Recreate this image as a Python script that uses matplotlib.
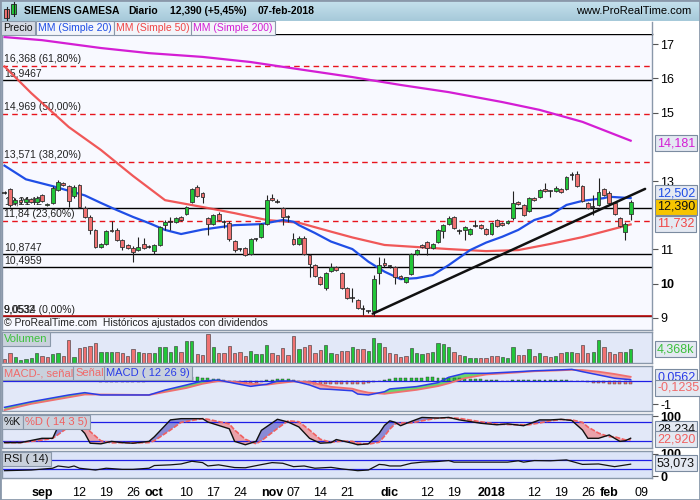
import numpy as np
import pandas as pd
import matplotlib
matplotlib.use("Agg")
import matplotlib.pyplot as plt
from matplotlib.patches import Rectangle
from matplotlib.lines import Line2D
from matplotlib.colors import LinearSegmentedColormap

plt.rcParams['font.family'] = ['Liberation Sans', 'DejaVu Sans']

# trading days on the Madrid exchange (holidays removed)
holidays = ["2017-12-25", "2017-12-26", "2018-01-01"]
days = pd.bdate_range("2017-08-23", "2018-02-09", freq="C", holidays=holidays)

# daily candles, 23-aug-2017 .. 07-feb-2018
opens = [12.66, 12.76, 12.35, 12.45, 12.38, 12.47, 12.40, 12.59, 12.30, 12.35,
         12.74, 12.93, 12.85, 12.55, 12.88, 12.22, 11.96, 11.57, 11.08, 11.17,
         11.58, 11.58, 11.27, 11.13, 11.05, 10.98, 11.15, 11.08, 10.95, 11.13,
         11.71, 11.81, 11.81, 11.95, 12.05, 12.40, 12.83, 12.64, 11.91, 11.74,
         12.05, 11.80, 11.78, 11.25, 11.00, 11.03, 10.87, 11.29, 11.37, 11.74,
         12.49, 12.40, 12.20, 11.96, 11.29, 11.15, 11.34, 10.85, 10.54, 10.20,
         9.86, 10.38, 10.49, 10.30, 9.86, 9.57, 9.52, 9.25, 9.20, 9.20,
         10.30, 10.59, 10.51, 10.49, 10.22, 10.05, 10.28, 10.88, 11.12, 11.22,
         11.05, 11.21, 11.55, 11.74, 11.94, 11.55, 11.57, 11.45, 11.68, 11.71,
         11.61, 11.45, 11.86, 11.78, 11.76, 11.91, 12.40, 12.30, 12.12, 12.51,
         12.54, 12.76, 12.71, 12.72, 12.78, 12.76, 13.17, 13.22, 12.85, 12.35,
         12.25, 12.30, 12.76, 12.64, 12.35, 11.91, 11.52, 12.03]
highs = [12.72, 12.80, 12.50, 12.52, 12.52, 12.50, 12.55, 12.63, 12.37, 12.85,
         13.02, 12.96, 12.88, 12.88, 12.92, 12.26, 12.00, 11.60, 11.20, 11.58,
         11.82, 11.62, 11.30, 11.16, 11.10, 11.35, 11.32, 11.12, 11.16, 11.68,
         11.86, 11.95, 11.95, 11.99, 12.28, 12.80, 12.88, 12.68, 11.96, 12.04,
         12.10, 11.86, 11.82, 11.28, 11.04, 11.06, 11.32, 11.33, 11.78, 12.59,
         12.61, 12.46, 12.24, 12.00, 11.49, 11.38, 11.38, 10.88, 10.57, 10.23,
         10.34, 10.60, 10.52, 10.33, 9.89, 9.86, 9.55, 9.37, 9.24, 10.25,
         10.78, 10.74, 10.55, 10.52, 10.25, 10.20, 10.90, 11.00, 11.15, 11.25,
         11.18, 11.60, 11.73, 11.99, 11.97, 11.60, 11.68, 11.63, 11.86, 11.74,
         11.64, 11.79, 11.89, 11.81, 11.86, 12.72, 12.43, 12.33, 12.52, 12.54,
         12.77, 12.93, 12.75, 12.84, 12.81, 13.14, 13.27, 13.30, 12.88, 12.38,
         12.58, 13.08, 12.79, 12.72, 12.38, 11.94, 11.80, 12.45]
lows = [12.62, 12.25, 12.30, 12.34, 12.35, 12.36, 12.38, 12.38, 12.27, 12.32,
        12.70, 12.86, 12.25, 12.50, 12.22, 11.92, 11.45, 11.05, 11.05, 11.14,
        11.50, 11.25, 10.98, 11.00, 10.64, 10.95, 11.02, 11.03, 10.88, 11.10,
        11.56, 11.56, 11.78, 11.83, 12.00, 12.36, 12.52, 12.35, 11.42, 11.70,
        11.82, 11.62, 11.26, 10.93, 10.95, 10.82, 10.84, 11.25, 11.33, 11.70,
        12.42, 12.36, 11.72, 11.80, 11.12, 11.12, 10.85, 10.20, 10.18, 9.95,
        9.82, 10.35, 10.36, 9.83, 9.54, 9.47, 9.25, 9.08, 9.13, 9.05,
        10.00, 10.50, 10.46, 10.00, 10.12, 10.02, 10.25, 10.84, 11.03, 10.85,
        11.02, 11.18, 11.32, 11.72, 11.60, 11.45, 11.27, 11.42, 11.65, 11.61,
        11.41, 11.42, 11.65, 11.68, 11.73, 11.86, 12.30, 11.97, 12.09, 12.41,
        12.51, 12.68, 12.54, 12.69, 12.66, 12.73, 13.03, 12.82, 12.39, 12.17,
        12.00, 12.27, 12.56, 12.32, 12.00, 11.65, 11.27, 11.86]
closes = [12.66, 12.30, 12.45, 12.38, 12.47, 12.40, 12.50, 12.42, 12.34, 12.80,
          12.98, 12.89, 12.42, 12.82, 12.25, 11.96, 11.57, 11.08, 11.17, 11.54,
          11.54, 11.27, 11.08, 11.05, 10.93, 11.08, 11.05, 11.08, 11.13, 11.66,
          11.81, 11.81, 11.91, 11.86, 12.25, 12.76, 12.56, 12.54, 11.74, 12.00,
          11.86, 11.80, 11.29, 10.98, 11.00, 10.84, 11.29, 11.29, 11.74, 12.44,
          12.44, 12.40, 11.96, 11.96, 11.15, 11.34, 10.88, 10.56, 10.22, 9.98,
          10.30, 10.49, 10.40, 9.86, 9.57, 9.57, 9.28, 9.25, 9.20, 10.12,
          10.54, 10.53, 10.51, 10.20, 10.15, 10.18, 10.88, 10.98, 11.06, 11.03,
          11.15, 11.57, 11.71, 11.91, 11.64, 11.55, 11.66, 11.61, 11.68, 11.64,
          11.44, 11.76, 11.68, 11.71, 11.83, 12.35, 12.33, 12.00, 12.49, 12.44,
          12.74, 12.71, 12.71, 12.81, 12.69, 13.11, 13.17, 12.85, 12.42, 12.20,
          12.25, 12.69, 12.59, 12.35, 12.03, 11.68, 11.75, 12.39]

# volume (thousands) and bar colour (g = up, r = down)
volumes = [1250, 3120, 1870, 1040, 1350, 1560, 3120, 2290, 1870, 2810,
           3120, 2290, 7280, 1870, 4680, 5200, 5410, 6240, 3640, 3640,
           3640, 3640, 3120, 2290, 4370, 3640, 3120, 3120, 3120, 5200,
           5200, 3640, 5410, 3640, 7070, 7070, 2810, 2600, 9150, 5200,
           3120, 3120, 5410, 3120, 3640, 2290, 3950, 2910, 2810, 5720,
           3330, 2600, 4680, 2600, 8530, 4370, 5200, 5720, 3120, 4160,
           5720, 3330, 2910, 3850, 3850, 4990, 4370, 4370, 3850, 7800,
           6240, 5200, 3120, 2810, 2080, 2290, 4680, 3120, 2910, 3120,
           3640, 6240, 6030, 4990, 3430, 2600, 2290, 1560, 1560, 1560,
           1560, 2290, 2290, 1870, 1660, 4990, 2600, 2600, 4370, 2290,
           3330, 2290, 2080, 2290, 3120, 3640, 3640, 3330, 5720, 3330,
           3640, 7280, 5200, 3430, 2910, 3640, 3640, 4368]
vol_dir = ("rrgggggrrg" "grrgrrrrgg" "grrrrgrrgg" "gggrggrrrg" "rrrrrrgggg"
           "rrrrrgrrrr" "ggrrr" "grrgggrrrr" "rgggrggggr" "rgggrrrrgg"
           "grrgrgrrgr" "ggrrrggrrr" "rgg")

# moving averages
ma20_idx = [0, 4, 9, 15, 18, 21, 24, 27, 30, 33, 37, 43, 48, 52, 54, 55, 58, 61,
            65, 68, 71, 74, 77, 80, 83, 87, 90, 93, 96, 99, 102, 105, 108, 112, 113, 117]
ma20_val = [13.45, 13.05, 12.85, 12.58, 12.36, 12.15, 11.95, 11.77, 11.57, 11.45,
            11.58, 11.71, 11.74, 11.86, 11.81, 11.71, 11.48, 11.23, 11.01, 10.64,
            10.35, 10.13, 10.16, 10.25, 10.54, 10.98, 11.20, 11.37, 11.57, 11.86,
            12.00, 12.30, 12.42, 12.50, 12.54, 12.50]
ma50_idx = [0, 5, 12, 18, 24, 30, 37, 43, 49, 55, 61, 65, 71, 77, 83, 90, 96, 102, 108, 117]
ma50_val = [16.35, 15.57, 14.58, 13.91, 13.15, 12.44, 12.24, 12.06, 11.86, 11.78,
            11.52, 11.35, 11.13, 11.07, 11.01, 10.95, 10.98, 11.16, 11.36, 11.73]
ma200_idx = [0, 7, 18, 27, 37, 46, 55, 65, 74, 83, 93, 100, 108, 117]
ma200_val = [17.21, 17.12, 16.89, 16.74, 16.63, 16.48, 16.27, 16.04, 15.81, 15.60,
             15.31, 15.08, 14.73, 14.18]

# drawn lines
trend_x = [68.8, 119.7]
trend_y = [9.12, 12.77]
fib_levels = [16.368, 14.969, 13.571, 11.84]
fib_labels = ["16,368 (61,80%)", "14,969 (50,00%)", "13,571 (38,20%)", "11,84 (23,60%)"]
hline_levels = [15.9467, 12.2142, 10.8747, 10.4959, 9.0532]
hline_labels = ["15,9467", "12,2142", "10,8747", "10,4959", "9,0532"]
zero_level = 9.0534
zero_label = "9,0534 (0,00%)"

# MACD (12 26 9)
macd_idx = [0, 5, 12, 15, 18, 27, 30, 34, 37, 40, 43, 46, 49, 51, 54, 57, 59, 61,
            65, 66, 68, 71, 72, 77, 81, 83, 86, 90, 96, 99, 103, 106, 108, 111, 114, 117]
macd_val = [-1.13, -0.89, -0.60, -0.50, -0.60, -0.60, -0.39, -0.17, 0.0, 0.04,
            -0.10, -0.23, -0.14, 0.0, 0.0, -0.17, -0.34, -0.36, -0.42, -0.56,
            -0.60, -0.46, -0.34, -0.24, -0.07, 0.16, 0.33, 0.33, 0.40, 0.44,
            0.47, 0.50, 0.40, 0.26, 0.12, 0.056]
signal_val = [-1.25, -0.98, -0.70, -0.58, -0.58, -0.60, -0.47, -0.30, -0.12, 0.0,
              -0.04, -0.12, -0.16, -0.10, -0.02, -0.05, -0.15, -0.25, -0.33, -0.40,
              -0.50, -0.55, -0.52, -0.38, -0.22, -0.10, 0.12, 0.28, 0.37, 0.42,
              0.45, 0.48, 0.47, 0.40, 0.30, 0.18]
macd_hist = [0.10, 0.10, 0.10, 0.10, 0.09, 0.09, 0.09, 0.09, 0.10, 0.10,
             0.10, 0.10, 0.10, 0.09, 0.06, 0.04, 0.02, -0.02, -0.03, -0.03,
             -0.04, -0.04, -0.06, -0.06, -0.06, -0.05, -0.04, -0.02, 0.0, 0.03,
             0.06, 0.08, 0.10, 0.12, 0.14, 0.16, 0.16, 0.15, 0.12, 0.10,
             0.07, 0.04, -0.03, -0.07, -0.09, -0.10, -0.09, -0.07, -0.04, 0.03,
             0.06, 0.07, 0.08, 0.07, 0.05, 0.02, -0.04, -0.08, -0.11, -0.13,
             -0.13, -0.12, -0.12, -0.13, -0.14, -0.13, -0.12, -0.11, -0.10, -0.06,
             0.0, 0.04, 0.08, 0.11, 0.13, 0.14, 0.15, 0.15, 0.15, 0.16,
             0.16, 0.15, 0.15, 0.14, 0.13, 0.12, 0.10, 0.09, 0.08, 0.07,
             0.06, 0.05, 0.04, 0.02, 0.02, 0.03, 0.03, 0.03, 0.03, 0.03,
             0.03, 0.03, 0.03, 0.03, 0.03, 0.03, 0.02, 0.01, -0.01, -0.04,
             -0.07, -0.09, -0.10, -0.11, -0.12, -0.14, -0.13, -0.12]

# Stochastic %K / %D (14 3 5)
stoch_idx = [0, 3, 7, 9, 10, 12, 13, 15, 16, 18, 20, 22, 24, 27, 28, 31, 33, 37, 38, 42,
             43, 45, 47, 48, 51, 53, 55, 57, 59, 61, 62, 63, 65, 66, 68, 70, 71, 72, 73, 74,
             76, 78, 81, 83, 85, 89, 92, 94, 97, 98, 100, 102, 104, 106, 108, 109, 111, 113,
             114, 115, 116, 117]
stoch_k = [14, 14, 28, 28, 66, 88, 81, 44, 12, 10, 18, 14, 12, 18, 33, 88, 92, 92, 81, 59,
           18, 7, 18, 54, 90, 81, 65, 28, 12, 14, 24, 20, 12, 7, 10, 44, 70, 85, 80, 69,
           83, 96, 94, 96, 88, 77, 72, 75, 69, 75, 88, 88, 90, 86, 55, 28, 28, 39,
           28, 18, 20, 28.2]
stoch_d = [14, 14, 22, 28, 40, 65, 78, 75, 50, 20, 13, 14, 13, 14, 20, 55, 80, 92, 90, 75,
           55, 25, 10, 20, 60, 85, 82, 55, 25, 15, 17, 19, 18, 12, 9, 15, 35, 58, 75, 78,
           78, 85, 94, 95, 93, 82, 74, 73, 72, 72, 78, 85, 89, 88, 80, 65, 45, 33,
           33, 28, 23, 22.9]

# RSI (14)
rsi_idx = [0, 5, 9, 10, 12, 13, 14, 17, 19, 22, 24, 27, 28, 31, 33, 35, 37, 38, 40, 43,
           45, 48, 50, 52, 54, 56, 58, 61, 63, 65, 66, 68, 70, 71, 72, 74, 76, 78, 81, 83,
           84, 89, 94, 96, 97, 99, 102, 105, 108, 111, 114, 117]
rsi_val = [24, 27, 35, 45, 39, 45, 35, 27, 35, 30, 30, 35, 47, 50, 54, 66, 60, 45, 50, 38,
           37, 51, 60, 57, 42, 45, 35, 39, 32, 27, 24, 27, 52, 50, 45, 45, 57, 62, 65, 69,
           62, 62, 62, 68, 62, 69, 68, 72, 52, 54, 42, 53.07]

tick_days = ["2017-09-01", "2017-09-12", "2017-09-19", "2017-09-26", "2017-10-02",
             "2017-10-10", "2017-10-17", "2017-10-24", "2017-11-01", "2017-11-07",
             "2017-11-14", "2017-11-21", "2017-12-01", "2017-12-12", "2017-12-19",
             "2018-01-02", "2018-01-12", "2018-01-19", "2018-01-26", "2018-02-01",
             "2018-02-09"]
tick_labels = ["sep", "12", "19", "26", "oct", "10", "17", "24", "nov", "07", "14", "21",
               "dic", "12", "19", "2018", "12", "19", "26", "feb", "09"]

# ---------------------------------------------------------------
UP, DOWN, EDGE = '#22c638', '#f07272', '#333333'
BORDER = '#8a98aa'
W, H = 700, 500


def fx(x):
    return x / W


def fy(y):
    return 1 - y / H


def rect(top, bot, left=2, right=652):
    return [fx(left), fy(bot), (right - left) / W, (bot - top) / H]


def style(ax, bg):
    ax.set_facecolor(bg)
    for s in ax.spines.values():
        s.set_color(BORDER)
        s.set_linewidth(1)
    ax.set_xlim(-0.47, 120.99)
    ax.set_xticks([])
    ax.yaxis.tick_right()
    ax.tick_params(axis='y', length=4, color='#555555', labelsize=9, pad=2)


def value_box(ypx, txt, color, face='#e4e9f2'):
    fig.text(fx(657), fy(ypx), txt, color=color, fontsize=9, va='center', ha='left',
             bbox=dict(boxstyle='square,pad=0.15', fc=face, ec='#7b8ba0', lw=0.8))


def title_box(xpx, ypx, txt, color, face='#c9d1dc', size=8):
    fig.text(fx(xpx), fy(ypx), txt, color=color, fontsize=size, va='center', ha='left',
             bbox=dict(boxstyle='square,pad=0.2', fc=face, ec=BORDER, lw=0.8))


fig = plt.figure(figsize=(7, 5), dpi=100, facecolor='white')

# title bar
ax_t = fig.add_axes([0, fy(21.5), 1, 21.5 / H])
cmap = LinearSegmentedColormap.from_list('bar', ['#c8e3ef', '#a6c9d9'])
ax_t.imshow(np.linspace(0, 1, 40).reshape(-1, 1), aspect='auto', cmap=cmap, extent=[0, 1, 0, 1])
ax_t.axis('off')
for xp, txt in [(24, "SIEMENS GAMESA"), (128, "Diario"), (170, "12,390 (+5,45%)"),
                (258, "07-feb-2018")]:
    fig.text(fx(xp), fy(11), txt, fontsize=7.5, fontweight='bold', va='center')
fig.text(fx(691), fy(11), "www.ProRealTime.com", fontsize=8, va='center', ha='right')
# little candle icon
for (x0, y0, y1, w0, w1, c) in [(4, 9, 18, 7, 20, DOWN), (11, 4, 14, 2, 16, UP)]:
    fig.add_artist(Line2D([fx(x0 + 2.5)] * 2, [fy(w0), fy(w1)], color='#222', lw=0.8,
                          transform=fig.transFigure))
    fig.add_artist(Rectangle((fx(x0), fy(y1)), 5 / W, (y1 - y0) / H, fc=c, ec='#222',
                             lw=0.6, transform=fig.transFigure))

# price panel
ax_p = fig.add_axes(rect(34, 330))
style(ax_p, '#f8f9ff')
ax_p.spines['top'].set_color('black')
ax_p.set_ylim(8.643, 17.30)

for lv, lb in zip(fib_levels, fib_labels):
    ax_p.axhline(lv, color='#e8141c', lw=1, dashes=(4, 3), zorder=2)
    ax_p.text(-0.1, lv + 0.04, lb, fontsize=7.5, color='#222222', va='bottom', zorder=1)
for lv, lb in zip(hline_levels, hline_labels):
    ax_p.axhline(lv, color='black', lw=1, zorder=2)
    ax_p.text(-0.1, lv + 0.04, lb, fontsize=7.5, color='#222222', va='bottom', zorder=1)
ax_p.axhline(zero_level, color='#c01010', lw=1.2, zorder=2)
ax_p.text(-0.1, zero_level + 0.04, zero_label, fontsize=7.5, color='#222222', va='bottom', zorder=1)

ax_p.plot(ma200_idx, ma200_val, color='#d41ed4', lw=1.6, zorder=3)
ax_p.plot(ma50_idx, ma50_val, color='#f04646', lw=1.6, zorder=3, alpha=0.9)
ax_p.plot(ma20_idx, ma20_val, color='#1f4ee6', lw=1.6, zorder=3)

for i, (o, h, l, c) in enumerate(zip(opens, highs, lows, closes)):
    ax_p.vlines(i, l, h, color='#222222', lw=0.8, zorder=4)
    if abs(c - o) < 0.005:
        ax_p.hlines(c, i - 0.4, i + 0.4, color='#222222', lw=1.1, zorder=5)
    else:
        ax_p.add_patch(Rectangle((i - 0.36, min(o, c)), 0.72, abs(c - o),
                                 fc=UP if c > o else DOWN, ec=EDGE, lw=0.6, zorder=5))

ax_p.plot(trend_x, trend_y, color='#111111', lw=1.8, zorder=6, solid_capstyle='round')

ax_p.set_yticks([9, 10, 11, 13, 15, 16, 17])
ax_p.set_yticklabels(["9", "10", "11", "13", "15", "16", "17"])
ax_p.get_yticklabels()[1].set_fontweight('bold')
ax_p.text(-0.1, 8.86, "\u00a9 ProRealTime.com  Hist\u00f3ricos ajustados con dividendos",
          fontsize=7.5, color='#222222', va='center')

# legend strip above the price panel
fig.add_artist(Rectangle((fx(0), fy(34)), fx(652), 12.5 / H, fc='white', ec='none',
                         transform=fig.transFigure))
fig.add_artist(Line2D([fx(652), fx(652)], [fy(21.5), fy(34)], color=BORDER, lw=1,
                      transform=fig.transFigure))
title_box(3, 28, "Precio", '#111111', face='#d4d9e3', size=7.5)
title_box(38, 28, "MM (Simple 20)", '#1f4ee6', face='#f3f5fa', size=7.5)
title_box(116, 28, "MM (Simple 50)", '#f04646', face='#f3f5fa', size=7.5)
title_box(193, 28, "MM (Simple 200)", '#d41ed4', face='#f3f5fa', size=7.5)

value_box(143, "14,181", '#d41ed4')
value_box(193, "12,502", '#1f4ee6')
value_box(224, "11,732", '#f04646')
value_box(207, "12,390", '#111111', face='#f6c400')

# volume
ax_v = fig.add_axes(rect(331.7, 363.3))
style(ax_v, '#e2e8f8')
ax_v.set_ylim(0, 9880)
ax_v.set_yticks([])
x = np.arange(len(volumes))
ax_v.bar(x, volumes, width=0.62, color=[UP if d == 'g' else DOWN for d in vol_dir],
         edgecolor=EDGE, lw=0.4)
title_box(4, 339, "Volumen", '#3cc03c')
value_box(349, "4,368k", '#3cc03c')

# MACD
ax_m = fig.add_axes(rect(365.7, 410.7))
style(ax_m, '#e2e8f8')
ax_m.set_ylim(-1.275, 0.657)
mv, sv = np.array(macd_val), np.array(signal_val)
ax_m.fill_between(macd_idx, mv, sv, where=mv >= sv, interpolate=True, color='#6ad66c', lw=0)
ax_m.fill_between(macd_idx, mv, sv, where=mv < sv, interpolate=True, color='#f0a2a6', lw=0)
ax_m.bar(np.arange(len(macd_hist)), macd_hist, width=0.55,
         color=[UP if v >= 0 else DOWN for v in macd_hist], edgecolor=EDGE, lw=0.3)
ax_m.axhline(0, color='#1e1ee6', lw=0.9)
ax_m.plot(macd_idx, sv, color='#f07070', lw=1.3)
ax_m.plot(macd_idx, mv, color='#2a3ce8', lw=1.1)
ax_m.set_yticks([-1])
ax_m.set_yticklabels(["-1"])
title_box(4, 373, "MACD-, se\u00f1al", '#f06a6a')
title_box(75, 373, "Se\u00f1al", '#f06a6a')
title_box(106, 373, "MACD ( 12 26 9)", '#2a3ce8')
value_box(377, "0,0562", '#2a3ce8')
value_box(388, "-0,1235", '#f06a6a')

# Stochastic
ax_s = fig.add_axes(rect(414.3, 447.7))
style(ax_s, '#e2e8f8')
ax_s.set_ylim(-2.6, 106.2)
kv, dv = np.array(stoch_k, float), np.array(stoch_d, float)
ax_s.fill_between(stoch_idx, kv, dv, where=kv >= dv, interpolate=True, color='#7a7ad0', lw=0, alpha=0.85)
ax_s.fill_between(stoch_idx, kv, dv, where=kv < dv, interpolate=True, color='#eaa2aa', lw=0)
ax_s.axhline(80, color='#1e1ee6', lw=0.9)
ax_s.axhline(20, color='#1e1ee6', lw=0.9)
ax_s.plot(stoch_idx, dv, color='#f06060', lw=1.2, dashes=(3, 1))
ax_s.plot(stoch_idx, kv, color='#111111', lw=1)
ax_s.set_yticks([100])
ax_s.set_yticklabels(["100"], fontweight='bold')
title_box(4, 422, "%K", '#111111')
title_box(25, 422, "%D ( 14 3 5)", '#f06060')
value_box(429, "28,234", '#111111')
value_box(439, "22,920", '#f06060')

# RSI
ax_r = fig.add_axes(rect(450.7, 478.3))
style(ax_r, '#dce4f8')
ax_r.set_ylim(-9.8, 112.9)
ax_r.axhline(70, color='#1e1ee6', lw=0.9)
ax_r.axhline(30, color='#1e1ee6', lw=0.9)
ax_r.plot(rsi_idx, rsi_val, color='#111111', lw=0.9)
ax_r.set_yticks([100, 0])
ax_r.set_yticklabels(["100", "0"], fontweight='bold')
title_box(4, 459, "RSI ( 14)", '#111111')
value_box(463, "53,073", '#111111')

tick_pos = [days.get_loc(pd.Timestamp(d)) for d in tick_days]
ax_r.set_xticks(tick_pos)
ax_r.set_xticklabels(tick_labels)
ax_r.tick_params(axis='x', length=0, labelsize=9, pad=6)
for lab in ax_r.get_xticklabels():
    if not lab.get_text().isdigit() or lab.get_text() == "2018":
        lab.set_fontweight('bold')
month_pos = [p for p, t in zip(tick_pos, tick_labels) if not t.isdigit() or t == "2018"]
ax_r.set_xticks(month_pos, minor=True)
ax_r.tick_params(axis='x', which='minor', length=5, color=BORDER)

# outer frame
fig.add_artist(Rectangle((0, 0), 1, 1, fill=False, ec=BORDER, lw=2, transform=fig.transFigure))

fig.savefig("out.png", dpi=100, facecolor='white')
